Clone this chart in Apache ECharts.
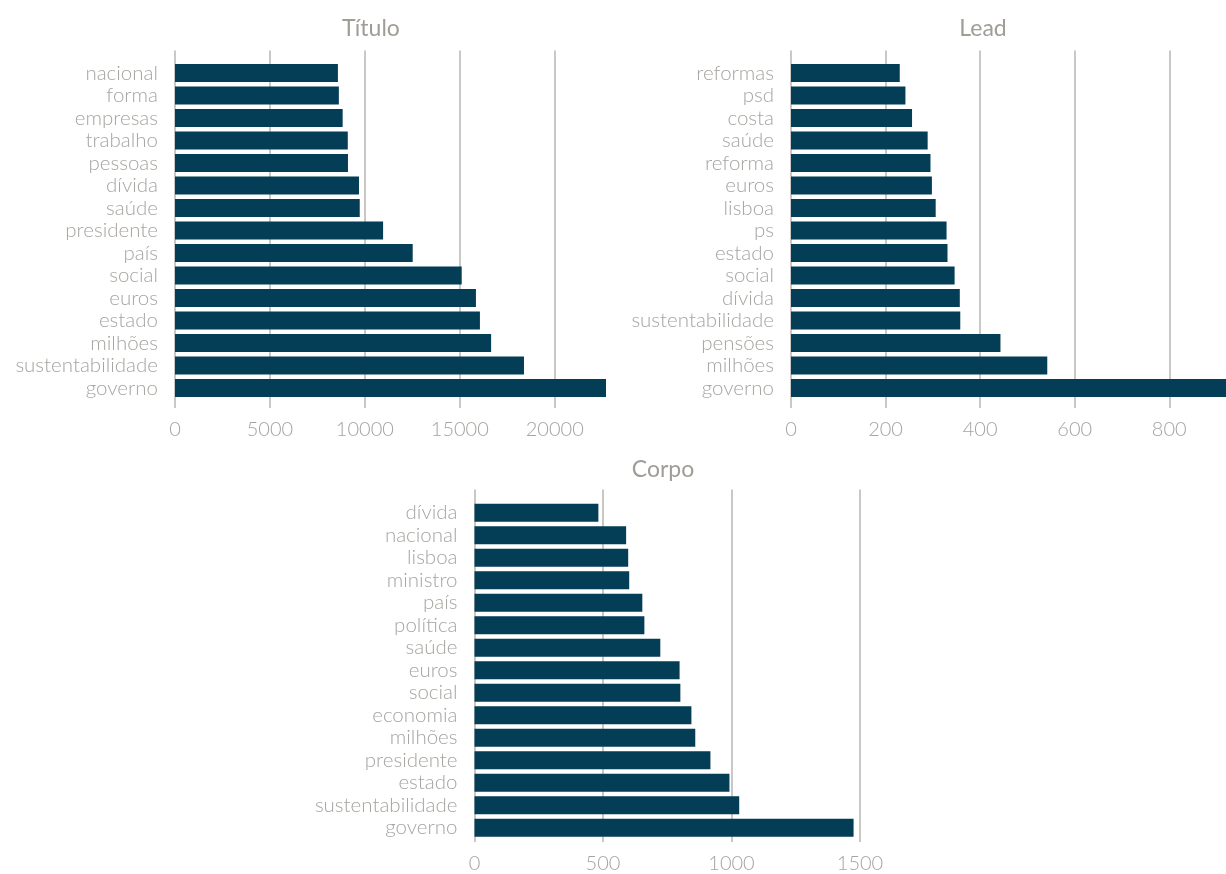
<!DOCTYPE html>
<html>
<head>
<meta charset="utf-8">
<script src="https://cdn.jsdelivr.net/npm/echarts@6/dist/echarts.min.js"></script>
<style>
html,body{margin:0;padding:0;background:#fff;}
#chart{width:1226px;height:874px;}
</style>
</head>
<body>
<div id="chart"></div>
<script>
// ---- data ----
const tituloCategories = ["nacional","forma","empresas","trabalho","pessoas","dívida","saúde","presidente","país","social","euros","estado","milhões","sustentabilidade","governo"];
const tituloValues = [8580,8630,8830,9100,9110,9690,9730,10960,12520,15100,15850,16060,16650,18380,22700];

const leadCategories = ["reformas","psd","costa","saúde","reforma","euros","lisboa","ps","estado","social","dívida","sustentabilidade","pensões","milhões","governo"];
const leadValues = [230,242,256,289,295,298,306,329,331,346,357,358,443,542,920];

const corpoCategories = ["dívida","nacional","lisboa","ministro","país","política","saúde","euros","social","economia","milhões","presidente","estado","sustentabilidade","governo"];
const corpoValues = [482,590,598,602,653,661,723,798,801,844,859,918,992,1030,1475];

const panelTitles = ["Título","Lead","Corpo"];
const tituloTicks = {max: 22700, interval: 5000};
const leadTicks = {max: 920, interval: 200};
const corpoTicks = {max: 1600, interval: 500};

// ---- styles ----
const FONT = "Lato, 'Open Sans', sans-serif";
const TXT = "#a7a4a0";
const GRID = "#b8b6b2";
const BAR = "#033d56";

const panels = [
  {cats: tituloCategories, vals: tituloValues, ticks: tituloTicks, left: 175, width: 431, barTop: 61.75, lineTop: 50.5, lineBottom: 408},
  {cats: leadCategories, vals: leadValues, ticks: leadTicks, left: 791, width: 435, barTop: 61.75, lineTop: 50.5, lineBottom: 408},
  {cats: corpoCategories, vals: corpoValues, ticks: corpoTicks, left: 474.5, width: 411.2, barTop: 501.5, lineTop: 489.5, lineBottom: 850}
];
const BAND = 22.5;

const grid = [], xAxis = [], yAxis = [], series = [];
panels.forEach((p, i) => {
  const gLines = i * 2, gBars = i * 2 + 1;
  grid.push({left: p.left, width: p.width, top: p.lineTop, height: p.lineBottom - p.lineTop, containLabel: false});
  grid.push({left: p.left, width: p.width, top: p.barTop, height: BAND * p.cats.length, containLabel: false});
  xAxis.push({
    gridIndex: gLines, type: 'value', min: 0, max: p.ticks.max, interval: p.ticks.interval,
    axisLine: {show: false}, axisTick: {show: false},
    axisLabel: {color: TXT, fontFamily: FONT, fontSize: 20, fontWeight: 300, margin: 12, showMaxLabel: false,
      formatter: v => (v % p.ticks.interval === 0 ? String(v) : '')},
    splitLine: {show: true, showMaxLine: false, showMinLine: true, lineStyle: {color: GRID, width: 1.5}}
  });
  yAxis.push({gridIndex: gLines, type: 'value', min: 0, max: 1, show: false});
  xAxis.push({gridIndex: gBars, type: 'value', min: 0, max: p.ticks.max, show: false});
  yAxis.push({
    gridIndex: gBars, type: 'category', data: p.cats, inverse: true,
    axisLine: {show: false}, axisTick: {show: false}, splitLine: {show: false},
    axisLabel: {color: TXT, fontFamily: FONT, fontSize: 20.5, fontWeight: 300, margin: 17, interval: 0}
  });
  series.push({
    type: 'bar', xAxisIndex: gBars, yAxisIndex: gBars, data: p.vals,
    barWidth: '80%', itemStyle: {color: BAR}, z: 5, silent: true
  });
});

const titleStyle = {color: "#a09d98", fontFamily: FONT, fontSize: 23, fontWeight: 'normal'};
const title = [
  {text: panelTitles[0], left: 366, top: 12, textAlign: 'center', textStyle: titleStyle},
  {text: panelTitles[1], left: 978, top: 12, textAlign: 'center', textStyle: titleStyle},
  {text: panelTitles[2], left: 658, top: 453, textAlign: 'center', textStyle: titleStyle}
];

const chart = echarts.init(document.getElementById('chart'), null, {renderer: 'canvas'});
chart.setOption({animation: false, backgroundColor: '#fff', title, grid, xAxis, yAxis, series});
</script>
</body>
</html>
